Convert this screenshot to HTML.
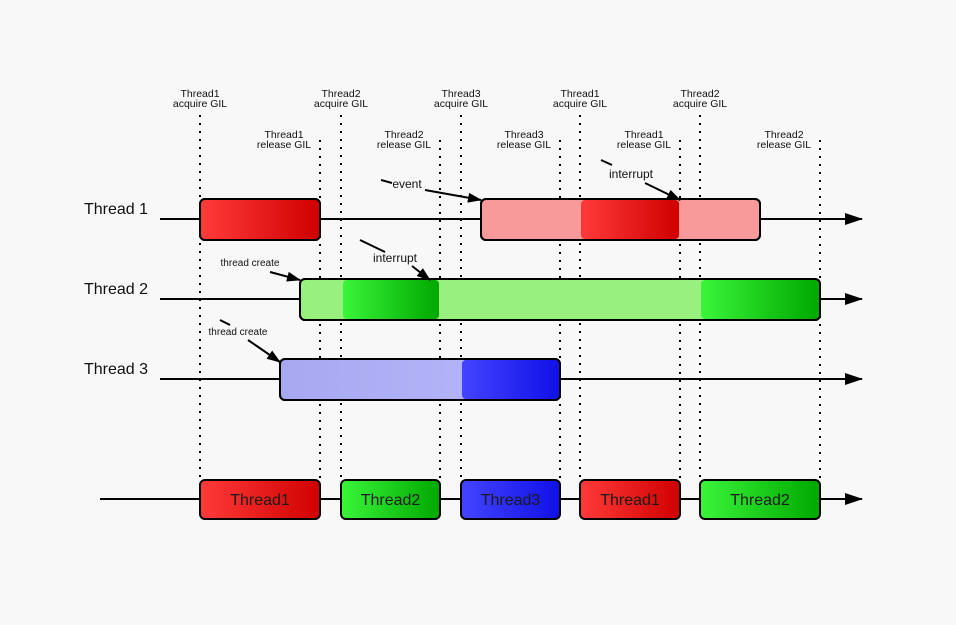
<!DOCTYPE html>
<html><head><meta charset="utf-8"><style>
html,body{margin:0;padding:0;background:#f8f8f8;}
svg{display:block;font-family:"Liberation Sans",sans-serif;}
</style></head><body>
<svg id="c" width="956" height="625" viewBox="0 0 956 625">
<defs>
<linearGradient id="gR" x1="0" x2="1"><stop offset="0" stop-color="#ff3a3a"/><stop offset="1" stop-color="#d00000"/></linearGradient>
<linearGradient id="gG" x1="0" x2="1"><stop offset="0" stop-color="#3af53a"/><stop offset="1" stop-color="#00a800"/></linearGradient>
<linearGradient id="gB" x1="0" x2="1"><stop offset="0" stop-color="#4444ff"/><stop offset="1" stop-color="#1010e8"/></linearGradient>
<linearGradient id="gLB" x1="0" x2="1"><stop offset="0" stop-color="#a8a8f0"/><stop offset="1" stop-color="#b8b8ff"/></linearGradient>
<marker id="ah" markerWidth="18" markerHeight="12" refX="17" refY="6" orient="auto" markerUnits="userSpaceOnUse"><path d="M0,0 L18,6 L0,12z" fill="#000"/></marker>
<marker id="ah2" markerWidth="14" markerHeight="10" refX="13" refY="5" orient="auto" markerUnits="userSpaceOnUse"><path d="M0,0 L14,5 L0,10z" fill="#000"/></marker>
</defs>
</svg>
<script>
const eventLabels=["Thread1 acquire GIL","Thread1 release GIL","Thread2 acquire GIL","Thread2 release GIL","Thread3 acquire GIL","Thread3 release GIL","Thread1 acquire GIL","Thread1 release GIL","Thread2 acquire GIL","Thread2 release GIL"];
const eventTimes=[0,120,141,240,261,360,380,480,500,620];
const threadNames=["Thread 1","Thread 2","Thread 3"];
const runStart=[[0,281],[100],[80]];
const runEnd=[[120,560],[620],[360]];
const gilStart=[[0,380],[142,500],[261]];
const gilEnd=[[120,480],[240,620],[360]];
const holderNames=["Thread1","Thread2","Thread3","Thread1","Thread2"];
const holderStart=[0,141,261,380,500];
const holderEnd=[120,240,360,480,620];
const holderThread=[0,1,2,0,1];

const svg=document.getElementById('c');
const NS="http://www.w3.org/2000/svg";
const X=t=>200+t;
const rowY=i=>219+i*80;
const light=["#f99a9a","#98f07e","url(#gLB)"];
const dark=["url(#gR)","url(#gG)","url(#gB)"];
function mk(tag,attrs,parent){const e=document.createElementNS(NS,tag);for(const k in attrs)e.setAttribute(k,attrs[k]);(parent||svg).appendChild(e);return e;}
function txt(x,y,s,size,anchor){const t=mk('text',{x:x,y:y,'font-size':size,'text-anchor':anchor||'middle',fill:'#111'});t.textContent=s;return t;}

eventLabels.forEach((lab,i)=>{
  const x=X(eventTimes[i]);const acq=lab.indexOf('acquire')>=0;
  const l=mk('line',{x1:x,x2:x,y1:acq?115:140,y2:478,stroke:'#000','stroke-width':2,'stroke-dasharray':'2,6'});
  
  
  const parts=lab.split(' ');
  const ty=acq?97:138;
  const cx=acq?x:x-36;
  const a=txt(cx,ty,parts[0],10.5);
  
  
  txt(cx,ty+10,parts.slice(1).join(' '),10.5);
});

threadNames.forEach((n,i)=>{
  const y=rowY(i);
  const ln=mk('line',{x1:160,x2:862,y1:y,y2:y,stroke:'#000','stroke-width':2,'marker-end':'url(#ah)'});
  
  
  const lb=txt(84,y-5,n,16,'start');
  
  
  runStart[i].forEach((s,j)=>{
    const r=mk('rect',{x:X(s),y:y-20,width:X(runEnd[i][j])-X(s),height:41,rx:5,fill:light[i],stroke:'#000','stroke-width':2});
    
    
  });
  gilStart[i].forEach((s,j)=>{
    const r=mk('rect',{x:X(s)+1,y:y-19,width:X(gilEnd[i][j])-X(s)-2,height:39,rx:4,fill:dark[i]});
    
    
  });
  runStart[i].forEach((s,j)=>{
    mk('rect',{x:X(s),y:y-20,width:X(runEnd[i][j])-X(s),height:41,rx:5,fill:'none',stroke:'#000','stroke-width':2});
  });
});

function ann(x1,y1,x2,y2,name){const a=mk('line',{x1:x1,y1:y1,x2:x2,y2:y2,stroke:'#000','stroke-width':2,'marker-end':'url(#ah2)'});}
mk('line',{x1:381,y1:180,x2:392,y2:183,stroke:'#000','stroke-width':2});
txt(407,188,'event',12);ann(425,190,481,200,'event-arrow');
mk('line',{x1:601,y1:160,x2:612,y2:165,stroke:'#000','stroke-width':2});
txt(631,178,'interrupt',12);ann(645,183,680,200,'interrupt-arrow-1');
mk('line',{x1:360,y1:240,x2:385,y2:252,stroke:'#000','stroke-width':2});
txt(395,262,'interrupt',12);ann(412,266,430,280,'interrupt-arrow-2');
txt(250,266,'thread create',10);ann(270,272,300,280,'thread-create-arrow-2');
mk('line',{x1:220,y1:320,x2:230,y2:325,stroke:'#000','stroke-width':2});
txt(238,335,'thread create',10);ann(248,340,280,362,'thread-create-arrow-3');

const by=499;
const bl=mk('line',{x1:100,x2:862,y1:by,y2:by,stroke:'#000','stroke-width':2,'marker-end':'url(#ah)'});


holderNames.forEach((n,i)=>{
  const r=mk('rect',{x:X(holderStart[i]),y:by-19,width:X(holderEnd[i])-X(holderStart[i]),height:39,rx:5,fill:dark[holderThread[i]],stroke:'#000','stroke-width':2});
  
  
  const t=txt((X(holderStart[i])+X(holderEnd[i]))/2,by+6,n,16);
  t.setAttribute('fill','#1a1a1a');
});
</script>
</body></html>
